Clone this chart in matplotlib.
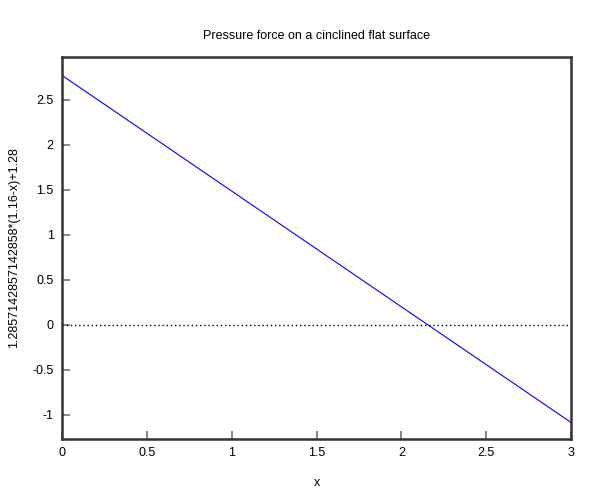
import matplotlib
matplotlib.use("Agg")
import matplotlib.pyplot as plt

# endpoints of the plotted line
x_vals = [0.0, 3.0]
y_vals = [2.771, -1.086]
zero_x = [0.0, 3.0]
zero_y = [0.0, 0.0]
x_ticks = [0, 0.5, 1, 1.5, 2, 2.5, 3]
x_tick_labels = ["0", "0.5", "1", "1.5", "2", "2.5", "3"]
y_ticks = [-1, -0.5, 0, 0.5, 1, 1.5, 2, 2.5]
y_tick_labels = ["-1", "-0.5", "0", "0.5", "1", "1.5", "2", "2.5"]

plt.rcParams["font.family"] = ["Liberation Sans", "DejaVu Sans"]

fig = plt.figure(figsize=(6, 5), dpi=100)
ax = fig.add_axes([0.1033, 0.122, 0.8484, 0.764])

ax.plot(x_vals, y_vals, color="#0000ff", lw=0.8)
ax.plot(zero_x, zero_y, color="black", lw=1.0, linestyle=(0, (1, 2)))

ax.set_xlim(0, 3)
ax.set_ylim(-1.27, 2.975)
ax.set_xticks(x_ticks, x_tick_labels)
ax.set_yticks(y_ticks, y_tick_labels)
ax.tick_params(direction="in", length=6, width=1.2, color="#707070",
               labelsize=9, pad=6)

for s in ax.spines.values():
    s.set_color("#333333")
    s.set_linewidth(1.8)

ax.set_xlabel("x", fontsize=9, labelpad=13)
ax.set_ylabel("1.2857142857142858*(1.16-x)+1.28", fontsize=9, labelpad=9)
ax.set_title("Pressure force on a cinclined flat surface", fontsize=9, pad=13)

fig.savefig("out.png", dpi=100)
